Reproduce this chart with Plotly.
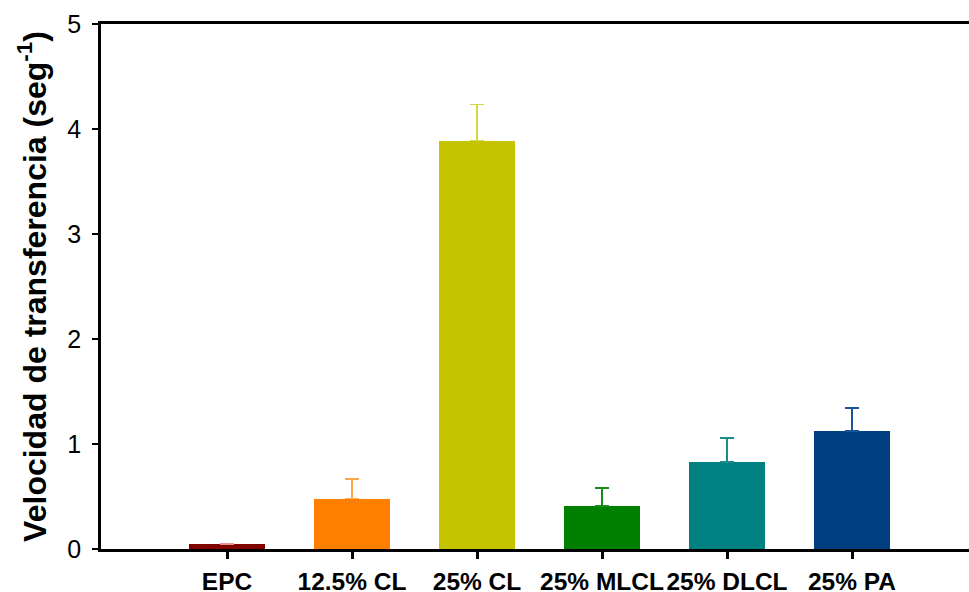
import plotly.graph_objects as go

# Lipid transfer rate per vesicle composition
categories = ["EPC", "12.5% CL", "25% CL", "25% MLCL", "25% DLCL", "25% PA"]
rates = [0.045, 0.481, 3.89, 0.408, 0.827, 1.126]
errors = [0.005, 0.184, 0.345, 0.175, 0.232, 0.215]
colors = ["#800000", "#FF8000", "#C4C400", "#008000", "#008080", "#004080"]
err_colors = ["#E89090", "#FFA64D", "#D6D640", "#1A8C1A", "#1A8C8C", "#1A5599"]

positions = list(range(len(categories)))

fig = go.Figure()
for pos, val, err, col, ecol in zip(positions, rates, errors, colors, err_colors):
    fig.add_trace(go.Bar(
        x=[pos], y=[val],
        width=0.61,
        marker=dict(color=col, line=dict(width=0)),
        error_y=dict(type="data", symmetric=False, array=[err], arrayminus=[0],
                     color=ecol, thickness=1.5, width=7),
        showlegend=False,
    ))

fig.update_layout(
    width=969, height=592,
    margin=dict(l=101, r=0, t=24, b=43),
    plot_bgcolor="white", paper_bgcolor="white",
    font=dict(family="Liberation Sans, Arial, sans-serif", color="black"),
    bargap=0,
)

fig.update_xaxes(
    range=[-1.008, 5.936],
    tickmode="array", tickvals=positions, ticktext=categories,
    tickfont=dict(size=24.5, weight="bold"),
    showline=True, linecolor="black", linewidth=2.5, mirror=True,
    ticks="outside", ticklen=7, tickwidth=2.5, tickcolor="black",
    ticklabelstandoff=2,
    automargin=False,
    showgrid=False, zeroline=False,
)
fig.update_yaxes(
    range=[0, 5],
    tickvals=[0, 1, 2, 3, 4, 5],
    tickfont=dict(size=25),
    showline=True, linecolor="black", linewidth=2.5,
    ticks="outside", ticklen=6, tickwidth=2, tickcolor="black",
    ticklabelstandoff=6,
    automargin=False,
    showgrid=False, zeroline=False,
    title=dict(text="<b>Velocidad de transferencia (seg<sup>-1</sup>)</b>",
               font=dict(size=32), standoff=12),
)

fig.write_html("out.html")
